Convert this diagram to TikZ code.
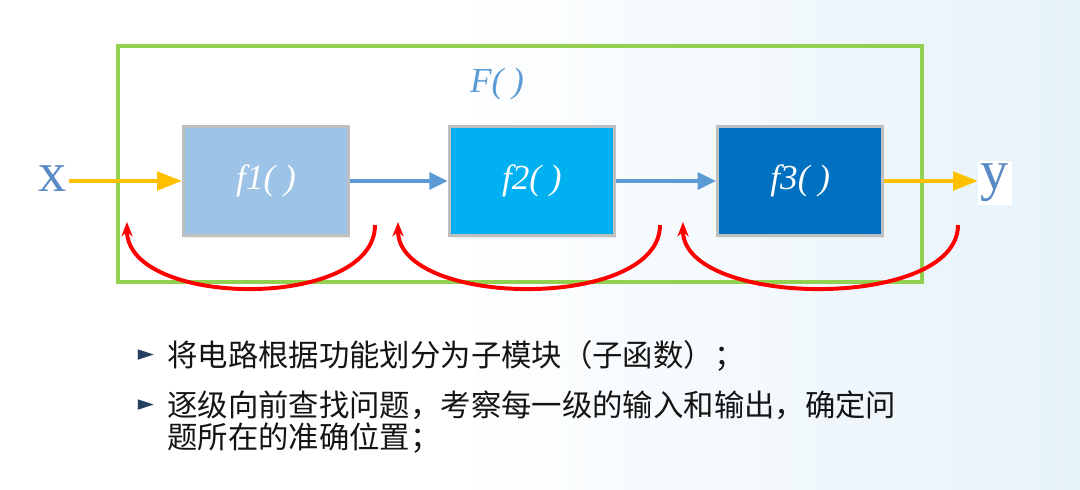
\documentclass[tikz,border=0pt]{standalone}
\usepackage{fontspec}
\setmainfont{Liberation Serif}
\newfontfamily\cjkfont{Noto Sans CJK SC}
\newfontfamily\symfont{DejaVu Sans}
\usepackage{tikz}
\usetikzlibrary{arrows.meta,positioning,calc,shadows}

% --- Color palette ---
\definecolor{framegreen}{HTML}{92D050}
\definecolor{labelblue}{HTML}{5B9BD5}
\definecolor{ioblue}{HTML}{5A8AC6}
\definecolor{fonefill}{HTML}{9DC3E6}
\definecolor{ftwofill}{HTML}{00B0F0}
\definecolor{fthreefill}{HTML}{0070C0}
\definecolor{boxgray}{HTML}{BFBFBF}
\definecolor{signalyellow}{HTML}{FFC000}
\definecolor{linkblue}{HTML}{5B9BD5}
\definecolor{backred}{HTML}{FF0000}
\definecolor{markblue}{HTML}{243F60}
\definecolor{textdark}{HTML}{141414}
\definecolor{bgblue}{HTML}{E6F2FA}

\tikzset{
  >=Stealth,
  fblock/.style={draw=boxgray, line width=2.3pt, minimum width=4.125cm, minimum height=2.725cm,
    text=white, font=\fontsize{25}{28}\selectfont\itshape,
    drop shadow={opacity=0.12, shadow xshift=1pt, shadow yshift=-1.5pt}},
  inarrow/.style={-{Triangle[length=0.62cm,width=0.46cm]}, line width=2.8pt, draw=signalyellow, fill=signalyellow},
  linkarrow/.style={-{Triangle[length=0.46cm,width=0.42cm]}, line width=2.6pt, draw=linkblue, fill=linkblue}
}

\begin{document}
\begin{tikzpicture}[
  x=0.025cm, y=-0.025cm,
  framebox/.style={draw=framegreen, line width=2.5pt, minimum width=20.1cm, minimum height=5.9cm},
  flabel/.style={text=labelblue, font=\fontsize{25}{28}\selectfont\itshape, inner sep=1pt},
  io/.style={text=ioblue, font=\fontsize{40}{44}\selectfont, inner sep=1pt, anchor=base},
  back/.style={-{Stealth[length=0.36cm,width=0.28cm]}, line width=2.8pt, draw=backred},
  itemtext/.style={anchor=base west, inner sep=0pt, text=textdark, font=\cjkfont\fontsize{21.6}{22.8}\selectfont},
  marker/.style={text=markblue, font=\symfont\fontsize{15}{16}\selectfont, inner sep=0pt}
]

% --- Background ---
\useasboundingbox (0,0) rectangle (1080,490);
\fill[white] (0,0) rectangle (1080,490);
\shade[left color=white, right color=bgblue] (450,0) rectangle (1080,490);

% --- Outer function F() ---
\node[framebox] (frame) at (520,164) {};
\node[flabel] (Fname) at (497,84) {F( )};

% --- Sub-function blocks ---
\node[fblock, fill=fonefill] (f1) at (266,181) {f1( )};
\node[fblock, fill=ftwofill, right=2.44cm of f1] (f2) {f2( )};
\node[fblock, fill=fthreefill, right=2.5cm of f2] (f3) {f3( )};

% --- Input / output ---
\node[io] (xin) at (53,192) {x};
\node[io, fill=white, inner sep=2pt] (yout) at (995,190) {y};

% --- Signal flow ---
\draw[inarrow] (xin.east |- f1.west) -- (f1.west);
\draw[linkarrow] (f1.east) -- (f2.west);
\draw[linkarrow] (f2.east) -- (f3.west);
\draw[inarrow] (f3.east) -- (yout.west |- f3.east);

% --- Backward search arcs ---
\coordinate (backAs) at (375,225);
\coordinate (backAe) at (127,222);
\coordinate (backBs) at (660,225);
\coordinate (backBe) at (398,222);
\coordinate (backCs) at (958,225);
\coordinate (backCe) at (683,222);
\draw[back] (backAs) .. controls +(0,86) and +(0,86) .. (backAe);
\draw[back] (backBs) .. controls +(0,86) and +(0,86) .. (backBe);
\draw[back] (backCs) .. controls +(0,86) and +(0,86) .. (backCe);

% --- Bullet list ---
\node[marker] (markA) at (146,355) {►};
\node[itemtext] (itemA) at (167,366.5) {将电路根据功能划分为子模块（子函数）；};
\node[marker] (markB) at (146,405) {►};
\node[itemtext] (itemB) at (167,416.5) {逐级向前查找问题，考察每一级的输入和输出，确定问};
\node[itemtext] (itemBb) at (167,448.5) {题所在的准确位置；};

\end{tikzpicture}
\end{document}
